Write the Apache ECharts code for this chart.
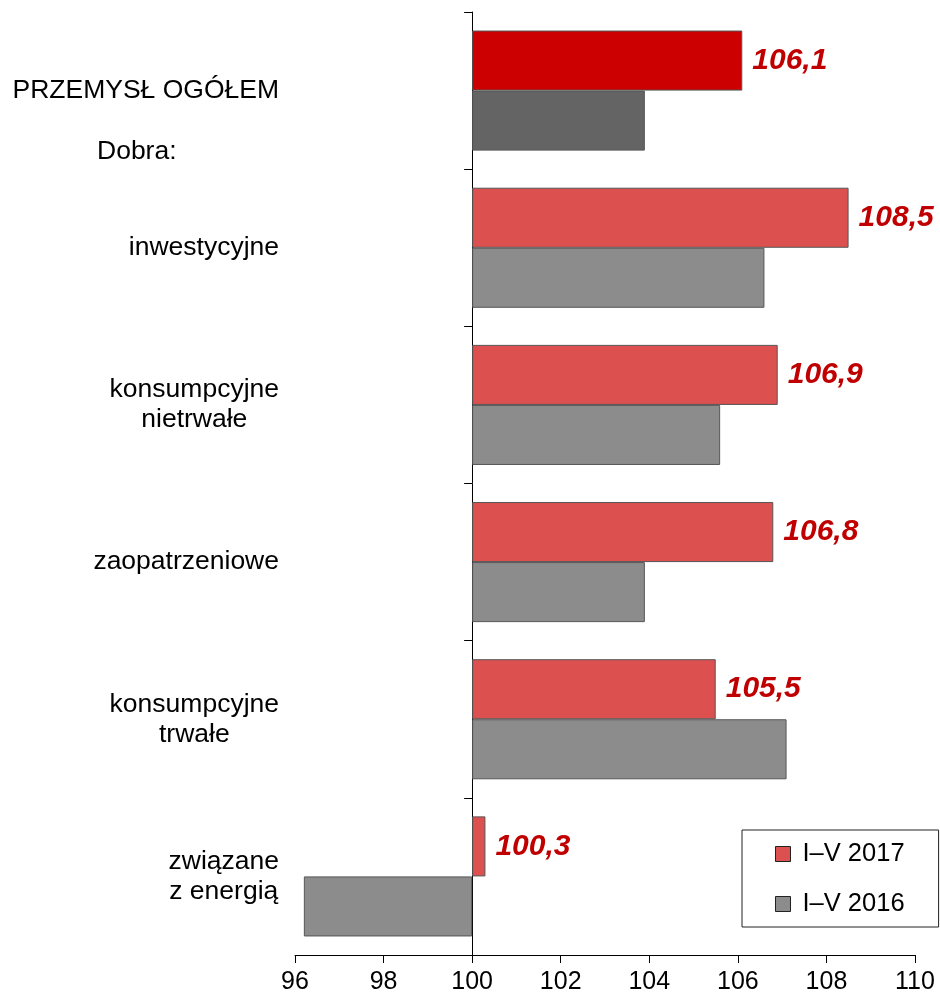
<!DOCTYPE html>
<html>
<head>
<meta charset="utf-8">
<script src="https://cdn.jsdelivr.net/npm/echarts@6/dist/echarts.min.js"></script>
<style>
html,body{margin:0;padding:0;background:#fff;}
#chart{width:940px;height:999px;}
</style>
</head>
<body>
<div id="chart"></div>
<script>
const categories = ['PRZEMYSŁ OGÓŁEM', 'inwestycyjne', 'konsumpcyjne\nnietrwałe', 'zaopatrzeniowe', 'konsumpcyjne\ntrwałe', 'związane\nz energią'];
const values2017 = [106.1, 108.5, 106.9, 106.8, 105.5, 100.3];
const values2016 = [103.9, 106.6, 105.6, 103.9, 107.1, 96.2];
const seriesNames = ['I–V 2017', 'I–V 2016'];
const baseValue = 100;
const axisTicks = { min: 96, max: 110, step: 2 };
const subLabel = 'Dobra:';

const FONT = '"Liberation Sans", Arial, sans-serif';

function toBars(vals, firstColor) {
  return vals.map((v, i) => {
    const item = { value: +(v - baseValue).toFixed(2), orig: v };
    if (i === 0) item.itemStyle = { color: firstColor };
    return item;
  });
}

const chart = echarts.init(document.getElementById('chart'), null, { renderer: 'canvas' });
chart.setOption({
  animation: false,
  backgroundColor: '#fff',
  textStyle: { fontFamily: FONT },
  grid: { left: 295, right: 25, top: 12, bottom: 44, containLabel: false, outerBoundsMode: 'none' },
  legend: {
    data: seriesNames,
    orient: 'vertical',
    left: 742,
    top: 830,
    padding: [11, 34, 10, 33],
    icon: 'rect',
    itemWidth: 15,
    itemHeight: 15,
    itemGap: 24,
    borderColor: '#222',
    borderWidth: 1,
    borderRadius: 0,
    backgroundColor: '#fff',
    itemStyle: { borderColor: '#222', borderWidth: 1 },
    textStyle: { fontSize: 25.5, color: '#000', fontFamily: FONT, lineHeight: 26, padding: [0, 0, 0, 7] }
  },
  xAxis: {
    type: 'value',
    min: axisTicks.min - baseValue,
    max: axisTicks.max - baseValue,
    interval: axisTicks.step,
    splitLine: { show: false },
    axisLine: { show: true, lineStyle: { color: '#000', width: 1 } },
    axisTick: { show: true, length: 8, lineStyle: { color: '#000' } },
    axisLabel: {
      margin: 15,
      fontSize: 25,
      color: '#000',
      fontFamily: FONT,
      formatter: v => String(Math.round(v + baseValue))
    }
  },
  yAxis: {
    type: 'category',
    data: categories,
    inverse: true,
    axisLine: { show: true, onZero: true, lineStyle: { color: '#000', width: 1 } },
    axisTick: { show: true, length: 8, lineStyle: { color: '#000' } },
    axisLabel: {
      margin: 16,
      color: '#000',
      fontFamily: FONT,
      fontSize: 26.5,
      formatter: v => v.split('\n').map(l => '{c|' + l + '}').join('\n'),
      rich: { c: { align: 'center', fontSize: 26.5, lineHeight: 30, color: '#000', fontFamily: FONT } }
    }
  },
  series: [
    {
      name: seriesNames[0],
      type: 'bar',
      data: toBars(values2017, '#CC0000'),
      barGap: '0%',
      barCategoryGap: '23.6%',
      itemStyle: { color: '#DD5050', borderColor: '#555', borderWidth: 1 },
      label: {
        show: true,
        position: 'right',
        distance: 10,
        color: '#C00000',
        fontSize: 30,
        fontWeight: 'bold',
        fontStyle: 'italic',
        fontFamily: FONT,
        formatter: p => p.data.orig.toFixed(1).replace('.', ',')
      }
    },
    {
      name: seriesNames[1],
      type: 'bar',
      data: toBars(values2016, '#646464'),
      barGap: '0%',
      barCategoryGap: '23.6%',
      itemStyle: { color: '#8C8C8C', borderColor: '#555', borderWidth: 1 }
    }
  ],
  graphic: [
    {
      type: 'text',
      left: 97,
      top: 138,
      style: { text: subLabel, font: '26.5px ' + FONT, fill: '#000' }
    }
  ]
});
</script>
</body>
</html>
